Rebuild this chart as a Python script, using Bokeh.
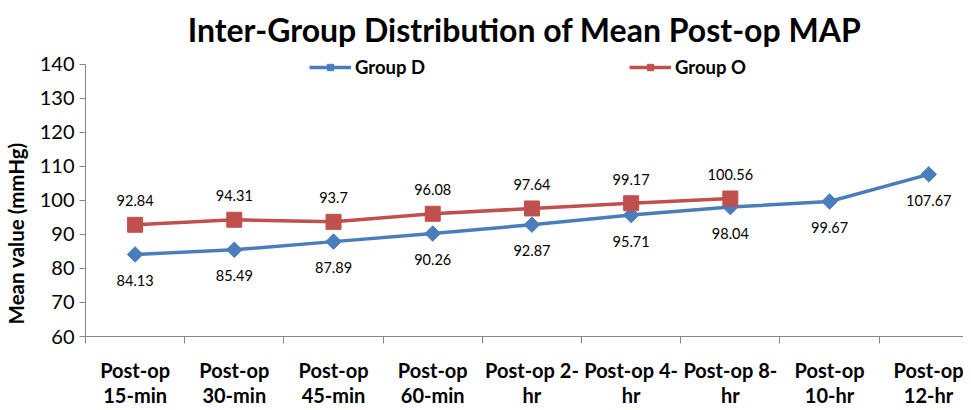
import math
from bokeh.plotting import figure
from bokeh.models import FixedTicker, ColumnDataSource, Legend, LegendItem
from bokeh.core.properties import value
from bokeh.embed import file_html
from bokeh.resources import INLINE

categories = ["Post-op\n15-min", "Post-op\n30-min", "Post-op\n45-min", "Post-op\n60-min",
              "Post-op 2-\nhr", "Post-op 4-\nhr", "Post-op 8-\nhr", "Post-op\n10-hr", "Post-op\n12-hr"]
group_d = [84.13, 85.49, 87.89, 90.26, 92.87, 95.71, 98.04, 99.67, 107.67]
group_o = [92.84, 94.31, 93.7, 96.08, 97.64, 99.17, 100.56]
y_ticks = [60, 70, 80, 90, 100, 110, 120, 130, 140]

FONT = "Lato"
BLUE = "#4A7EBB"
RED = "#C0504D"

xs_d = list(range(1, len(group_d) + 1))
xs_o = list(range(1, len(group_o) + 1))

p = figure(width=963, height=410, output_backend="svg", toolbar_location=None,
           x_range=(0.5, 9.35), y_range=(60, 142.6),
           min_border_left=84, min_border_right=0, min_border_top=55, min_border_bottom=72)
p.outline_line_color = None
p.xgrid.grid_line_color = None
p.ygrid.grid_line_color = None

p.title.text = "Inter-Group Distribution of Mean Post-op MAP"
p.title.text_font = FONT
p.title.text_font_size = "32px"
p.title.text_font_style = "bold"
p.title.text_color = "black"
p.title.align = "center"
p.title.standoff = 13

# x axis
p.xaxis.ticker = FixedTicker(ticks=xs_d, minor_ticks=[i + 0.5 for i in range(0, 10)])
p.xaxis.major_label_overrides = {i + 1: c for i, c in enumerate(categories)}
p.xaxis.major_tick_out = 0
p.xaxis.major_tick_in = 0
p.xaxis.minor_tick_out = 7
p.xaxis.minor_tick_in = 0
p.xaxis.minor_tick_line_color = "#868686"
p.xaxis.axis_line_color = "#868686"
p.xaxis.major_label_text_font = FONT
p.xaxis.major_label_text_font_style = "bold"
p.xaxis.major_label_text_font_size = "20px"
p.xaxis.major_label_text_color = "black"
p.xaxis.major_label_standoff = 14
p.xaxis.major_label_text_line_height = 1.08

# y axis
p.yaxis.ticker = FixedTicker(ticks=y_ticks, minor_ticks=[])
p.yaxis.bounds = (60, 140)
p.yaxis.axis_line_color = "#868686"
p.yaxis.major_tick_line_color = "#868686"
p.yaxis.major_tick_out = 6
p.yaxis.major_tick_in = 0
p.yaxis.minor_tick_line_color = None
p.yaxis.major_label_text_font = FONT
p.yaxis.major_label_text_font_size = "20px"
p.yaxis.major_label_text_color = "black"
p.yaxis.major_label_standoff = 5
p.yaxis.axis_label = "Mean value (mmHg)" + "\u00a0" * 15
p.yaxis.axis_label_text_font = FONT
p.yaxis.axis_label_text_font_style = "bold"
p.yaxis.axis_label_text_font_size = "20.5px"
p.yaxis.axis_label_text_color = "black"
p.yaxis.axis_label_standoff = 9

src_d = ColumnDataSource(dict(x=xs_d, y=group_d, lab=[f"{v:g}" for v in group_d]))
src_o = ColumnDataSource(dict(x=xs_o, y=group_o, lab=[f"{v:g}" for v in group_o]))

ld = p.line("x", "y", source=src_d, line_color=BLUE, line_width=3.5)
md = p.scatter("x", "y", source=src_d, marker="square", size=11, angle=math.pi / 4,
               fill_color=BLUE, line_color=BLUE)
lo = p.line("x", "y", source=src_o, line_color=RED, line_width=3.5)
mo = p.scatter("x", "y", source=src_o, marker="square", size=15, fill_color=RED, line_color=RED)

p.text("x", "y", text="lab", source=src_o, text_font=value(FONT), text_font_size="14.5px",
       text_align="center", text_baseline="middle", y_offset=-24, text_color="black")
p.text("x", "y", text="lab", source=src_d, text_font=value(FONT), text_font_size="14.5px",
       text_align="center", text_baseline="middle", y_offset=26, text_color="black")

legend = Legend(items=[LegendItem(label="Group D", renderers=[ld, md]),
                       LegendItem(label="Group O", renderers=[lo, mo])],
                orientation="horizontal", location=(224, 258), spacing=204,
                padding=0, margin=0, glyph_width=42, glyph_height=16, label_standoff=4,
                label_text_font=FONT, label_text_font_style="bold", label_text_font_size="18.5px",
                label_text_color="black",
                background_fill_alpha=0, border_line_color=None)
p.add_layout(legend, "center")

open("out.html", "w").write(file_html(p, INLINE))
